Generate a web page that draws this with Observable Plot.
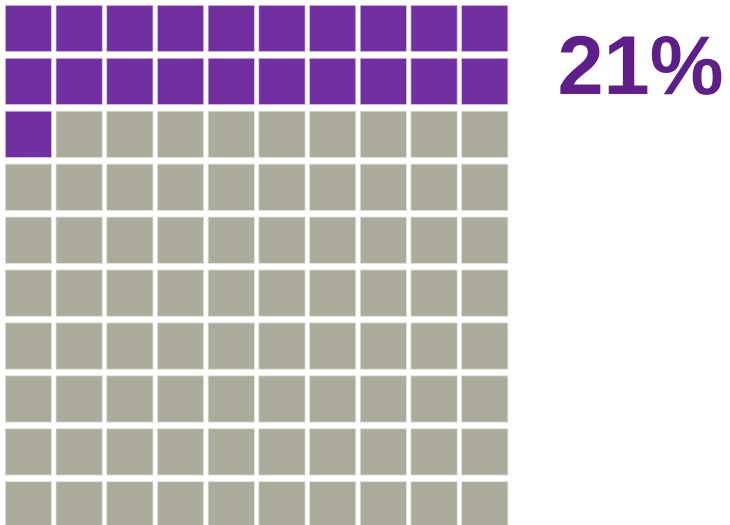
<!DOCTYPE html>
<html>
<head>
<meta charset="utf-8">
<script src="https://cdn.jsdelivr.net/npm/d3@7"></script>
<script src="https://cdn.jsdelivr.net/npm/@observablehq/plot@0.6"></script>
<style>
  html, body { margin: 0; padding: 0; background: #fff; }
  #chart { width: 730px; height: 525px; overflow: hidden; }
</style>
</head>
<body>
<div id="chart"></div>
<script>
const shareValue = 21;      // percent filled
const totalCells = 100;
const gridColumns = 10;
const labelText = ["21%"];
const fillColors = ["#7030a0", "#abac9c"];

const cells = d3.range(totalCells).map(i => ({
  col: i % gridColumns,
  row: Math.floor(i / gridColumns),
  filled: i < shareValue ? "yes" : "no"
}));

const chart = Plot.plot({
  width: 730,
  height: 525,
  margin: 0,
  x: {domain: [0, 10], range: [3.1, 510.1], axis: null},
  y: {domain: [0, 10], range: [2.0, 531.3], axis: null},
  color: {domain: ["yes", "no"], range: fillColors},
  marks: [
    Plot.rect(cells, {
      x1: "col", x2: d => d.col + 1,
      y1: "row", y2: d => d.row + 1,
      fill: "filled",
      stroke: d => d.filled === "yes" ? "#d9c6ea" : "#e3e4dc",
      strokeWidth: 0.8,
      insetLeft: 2.2, insetRight: 2.2, insetTop: 3.3, insetBottom: 3.3
    }),
    Plot.text(labelText, {
      text: d => d,
      frameAnchor: "top-right",
      lineAnchor: "top",
      dx: -7, dy: 35,
      fontSize: 83,
      fontWeight: "bold",
      fontFamily: "Liberation Sans, Arial, sans-serif",
      fill: "#5f1f88"
    })
  ]
});
document.getElementById("chart").appendChild(chart);
</script>
</body>
</html>
